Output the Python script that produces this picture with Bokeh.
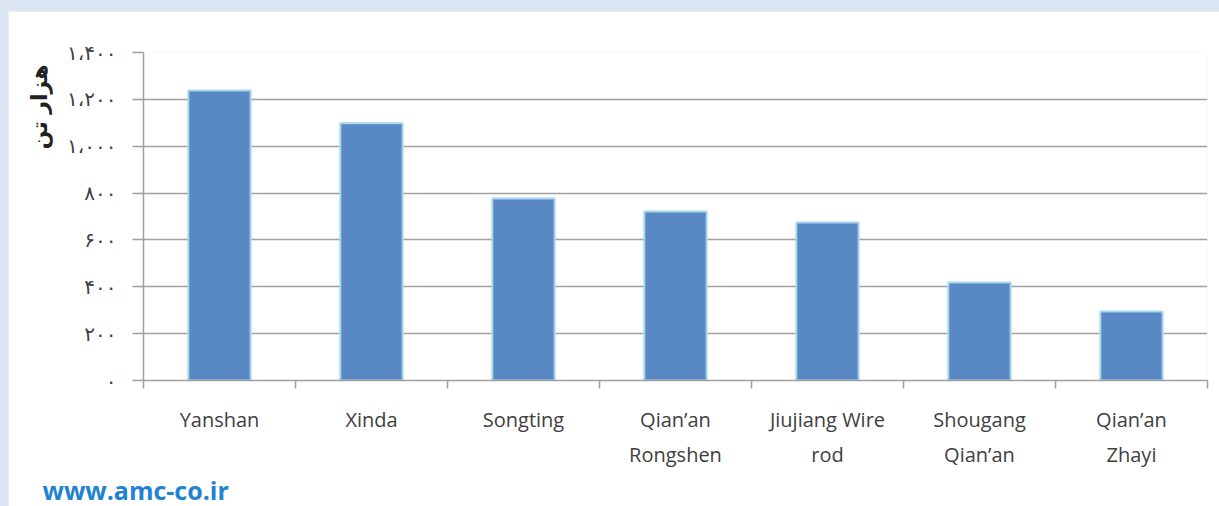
from bokeh.plotting import figure
from bokeh.models import Range1d, LinearAxis, FixedTicker, Title, ColumnDataSource
from bokeh.embed import file_html
from bokeh.resources import INLINE

# ---- data ----
categories = ["Yanshan", "Xinda", "Songting", "Qian\u2019an\nRongshen",
              "Jiujiang Wire\nrod", "Shougang\nQian\u2019an", "Qian\u2019an\nZhayi"]
production = [1238, 1098, 777, 721, 674, 418, 294]
y_ticks = [0, 200, 400, 600, 800, 1000, 1200, 1400]
y_tick_labels = ["\u06f0", "\u06f2\u06f0\u06f0", "\u06f4\u06f0\u06f0", "\u06f6\u06f0\u06f0",
                 "\u06f8\u06f0\u06f0", "\u06f1\u060c\u06f0\u06f0\u06f0",
                 "\u06f1\u060c\u06f2\u06f0\u06f0", "\u06f1\u060c\u06f4\u06f0\u06f0"]
y_title = "\u0647\u0632\u0627\u0631 \u062a\u0646"
watermark = "www.amc-co.ir"

n = len(categories)
centers = [i + 0.5 for i in range(n)]
bounds = list(range(n + 1))
src = ColumnDataSource(dict(x=centers, val=production))

p = figure(width=1211, height=495, x_range=Range1d(0, n),
           y_range=Range1d(0, 1400), output_backend="svg", toolbar_location=None,
           min_border_left=135, min_border_right=12, min_border_top=41, min_border_bottom=126)
p.outline_line_color = None
p.background_fill_color = "white"
p.border_fill_color = "white"

p.vbar(x="x", top="val", width=0.41, source=src, fill_color="#5889c4",
       line_color="#a6d6ea", line_width=2)

# grid
p.xgrid.grid_line_color = None
p.ygrid.ticker = FixedTicker(ticks=y_ticks)
p.ygrid.grid_line_color = "#a0a0a0"
p.ygrid.grid_line_width = 1.5

# y axis
ya = p.yaxis[0]
ya.ticker = FixedTicker(ticks=y_ticks)
ya.major_label_overrides = {t: l for t, l in zip(y_ticks, y_tick_labels)}
ya.major_tick_out = 11
ya.major_tick_in = 0
ya.minor_tick_out = 0
ya.minor_tick_in = 0
ya.major_tick_line_color = "#a0a0a0"
ya.major_tick_line_width = 1.5
ya.axis_line_color = "#a0a0a0"
ya.axis_line_width = 1.5
ya.major_label_text_font = "DejaVu Sans"
ya.major_label_text_font_size = "20px"
ya.major_label_text_color = "#404040"
ya.major_label_standoff = 16

# x axis: boundary ticks (main axis)
ta = p.xaxis[0]
ta.ticker = FixedTicker(ticks=bounds)
ta.major_label_overrides = {b: "" for b in bounds}
ta.major_tick_out = 8
ta.major_tick_in = 0
ta.minor_tick_out = 0
ta.minor_tick_in = 0
ta.major_tick_line_color = "#a0a0a0"
ta.major_tick_line_width = 1.5
ta.axis_line_color = "#a0a0a0"
ta.axis_line_width = 1.5
ta.major_label_text_font_size = "1px"
ta.major_label_standoff = 0

# x axis: category labels at bar centres
xa = LinearAxis(ticker=FixedTicker(ticks=centers))
xa.major_label_overrides = {c: name for c, name in zip(centers, categories)}
xa.major_tick_out = 0
xa.major_tick_in = 0
xa.minor_tick_out = 0
xa.minor_tick_in = 0
xa.axis_line_color = None
xa.major_label_text_font = "Open Sans"
xa.major_label_text_font_size = "20px"
xa.major_label_text_color = "#404040"
xa.major_label_text_line_height = 1.3
xa.major_label_standoff = 17
p.add_layout(xa, "below")

# y title near the top of the axis
yt = Title(text=y_title, align="right", offset=12, standoff=26,
           text_font="DejaVu Sans", text_font_size="22px", text_font_style="bold",
           text_color="#222222")
p.add_layout(yt, "left")

# watermark
wm = Title(text=watermark, align="left", offset=-101, standoff=0,
           text_font="Open Sans", text_font_size="25px", text_font_style="bold",
           text_color="#1f82d2")
p.add_layout(wm, "below")

html = file_html(p, INLINE)
i = html.rfind("</head>")
if i >= 0:
    html = html[:i] + html[i:].replace(
        "<body", '<body style="background:#dce6f2;margin:0;padding:11px 0 0 8px;overflow:hidden"', 1)
open("out.html", "w").write(html)
